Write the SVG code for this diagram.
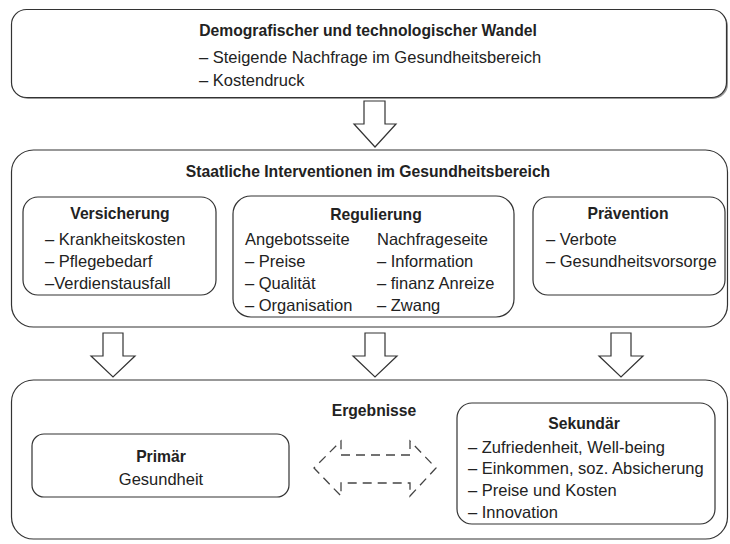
<svg xmlns="http://www.w3.org/2000/svg" width="730" height="544" viewBox="0 0 730 544">
<style>
.box{fill:#fff;stroke:#333;stroke-width:1.2}
.arr{fill:#fff;stroke:#333;stroke-width:1.2;stroke-linejoin:miter}
.dash{fill:none;stroke:#444;stroke-width:1.3;stroke-dasharray:9 6}
text{font-family:"Liberation Sans",Arial,sans-serif;font-size:16.5px;fill:#222}
.t{font-weight:bold;font-size:15.7px;text-anchor:middle}
.c{text-anchor:middle}
</style>
<rect width="730" height="544" fill="#fff"/>
<g id="wandel">
<rect x="13" y="11" width="715" height="88" rx="15" fill="#999" stroke="none"/>
<rect class="box" x="11.5" y="9.5" width="715" height="88" rx="15"/>
<text class="t" x="368" y="36">Demografischer und technologischer Wandel</text>
<text x="199" y="63">– Steigende Nachfrage im Gesundheitsbereich</text>
<text x="199" y="86">– Kostendruck</text>
</g>
<g id="interventionen">
<rect class="box" x="11.5" y="150" width="716" height="177" rx="22"/>
<text class="t" x="368" y="177">Staatliche Interventionen im Gesundheitsbereich</text>
</g>
<g id="versicherung">
<rect class="box" x="23" y="197" width="193" height="98" rx="15"/>
<text class="t" x="120" y="219">Versicherung</text>
<text x="45" y="245">– Krankheitskosten</text>
<text x="45" y="267">– Pflegebedarf</text>
<text x="45" y="289">–Verdienstausfall</text>
</g>
<g id="regulierung">
<rect class="box" x="233" y="196" width="281" height="121" rx="18"/>
<text class="t" x="376" y="220">Regulierung</text>
<text x="245" y="245">Angebotsseite</text>
<text x="245" y="267">– Preise</text>
<text x="245" y="289">– Qualität</text>
<text x="245" y="311">– Organisation</text>
<text x="377" y="245">Nachfrageseite</text>
<text x="377" y="267">–  Information</text>
<text x="377" y="289">–  finanz Anreize</text>
<text x="377" y="311">–  Zwang</text>
</g>
<g id="praevention">
<rect class="box" x="533" y="197" width="192" height="98" rx="15"/>
<text class="t" x="628" y="219">Prävention</text>
<text x="546" y="245">– Verbote</text>
<text x="546" y="267">– Gesundheitsvorsorge</text>
</g>
<g id="ergebnisse">
<rect class="box" x="11.5" y="380" width="716" height="159" rx="22"/>
<text class="t" x="374" y="416">Ergebnisse</text>
</g>
<g id="primaer">
<rect class="box" x="32" y="434" width="257" height="63" rx="12"/>
<text class="t" x="161" y="462">Primär</text>
<text class="c" x="161" y="485">Gesundheit</text>
</g>
<g id="sekundaer">
<rect class="box" x="457" y="403" width="258" height="121" rx="15"/>
<text class="t" x="584" y="429">Sekundär</text>
<text x="468" y="453">– Zufriedenheit, Well-being</text>
<text x="468" y="474">– Einkommen, soz. Absicherung</text>
<text x="468" y="496">– Preise und Kosten</text>
<text x="468" y="518">– Innovation</text>
</g>
<g id="connectors">
<path class="arr" d="M364,101 H385 V124 H396 L375,147 L354,124 H364 Z"/>
<path class="arr" d="M103,333 H123 V356 H135 L113,377 L91,356 H103 Z"/>
<path class="arr" d="M365,333 H385 V356 H397 L375,377 L353,356 H365 Z"/>
<path class="arr" d="M611,333 H631 V356 H643 L621,377 L599,356 H611 Z"/>
<path class="dash" d="M341,455 H410 V441 L436,468 L410,496 V483 H341 V496 L314,468 L341,441 Z"/>
</g>
</svg>
